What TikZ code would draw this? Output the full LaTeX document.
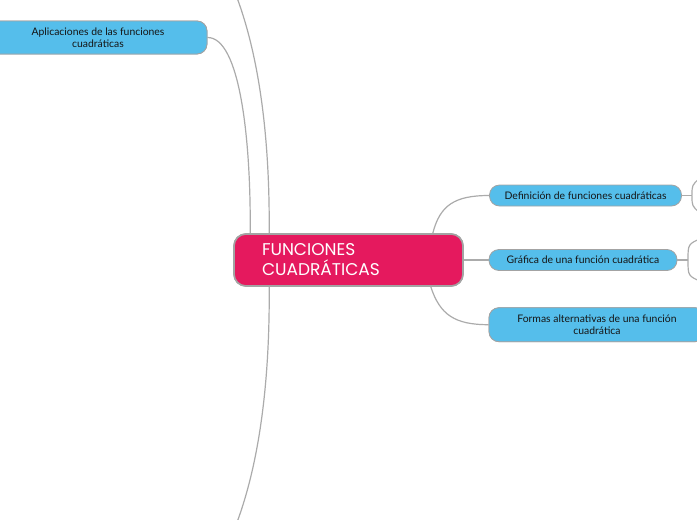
\documentclass[tikz,border=0pt]{standalone}
\usepackage{fontspec}
\setmainfont{Lato}
\newfontfamily\titlefont{Poppins}
\definecolor{pinkc}{HTML}{E5195E}
\definecolor{bluec}{HTML}{55BEEB}
\definecolor{linec}{HTML}{ABABAB}
\definecolor{bordc}{HTML}{A3A3A3}
\definecolor{txtc}{HTML}{151515}
\begin{document}
\begin{tikzpicture}[x=1pt,y=-1pt,
  conn/.style={draw=linec,line width=1.2pt},
  mainbox/.style={draw=bordc,line width=1.6pt,fill=pinkc,rounded corners=12pt,minimum width=229pt,minimum height=52pt,inner sep=0pt,text width=173pt,align=left,text=white,font=\titlefont\fontsize{17}{20}\selectfont},
  subbox/.style={draw=bordc,line width=0.8pt,fill=bluec,rounded corners=10pt,inner sep=0pt,align=center,text=txtc,font=\fontsize{10.4}{12}\selectfont}]
\useasboundingbox (0,0) rectangle (697,520);
% connectors first (free ends)
\coordinate (topend) at (232,-15);
\coordinate (botend) at (232,535);
\coordinate (dj) at (692,195.5);
\coordinate (dup) at (700,178);
\coordinate (ddn) at (700,213);
\coordinate (gj) at (688,260);
\coordinate (gup) at (702,238);
\coordinate (gdn) at (702,282);
% nodes
\node[mainbox] (c) at (348.5,260) {FUNCIONES\\CUADRÁTICAS};
\node[subbox,minimum width=218pt,minimum height=33pt] (apl) at (98,37.5) {Aplicaciones de las funciones\\cuadráticas};
\node[subbox,minimum width=192pt,minimum height=21pt] (def) at (585.5,195.5) {Definición de funciones cuadráticas};
\node[subbox,minimum width=188pt,minimum height=21pt] (gra) at (583,260) {Gráfica de una función cuadrática};
\node[subbox,minimum width=216pt,minimum height=34pt] (for) at (597,324.7) {Formas alternativas de una función\\cuadrática};
% connectors
\draw[conn] ([xshift=17pt]c.north west) .. controls (251,140) and (240,37) .. (apl.east);
\draw[conn] ([xshift=36pt]c.north west) .. controls (270,120) and (255,40) .. (topend);
\draw[conn] ([xshift=36pt]c.south west) .. controls (270,400) and (255,480) .. (botend);
\draw[conn] ([xshift=-31pt]c.north east) .. controls (440,205) and (455,195.5) .. (def.west);
\draw[conn] (c.east) -- (gra.west);
\draw[conn] ([xshift=-33pt]c.south east) .. controls (440,315) and (455,324.7) .. (for.west);
\draw[conn] (def.east) -- (dj);
\draw[conn] (dj) .. controls (692,185) .. (dup);
\draw[conn] (dj) .. controls (692,206) .. (ddn);
\draw[conn] (gra.east) -- (gj);
\draw[conn] (gj) .. controls (688,244) .. (gup);
\draw[conn] (gj) .. controls (688,276) .. (gdn);
% redraw nodes on top of connector ends
\node[mainbox] at (348.5,260) {FUNCIONES\\CUADRÁTICAS};
\node[subbox,minimum width=218pt,minimum height=33pt] at (98,37.5) {Aplicaciones de las funciones\\cuadráticas};
\node[subbox,minimum width=216pt,minimum height=34pt] at (597,324.7) {Formas alternativas de una función\\cuadrática};
\end{tikzpicture}
\end{document}
